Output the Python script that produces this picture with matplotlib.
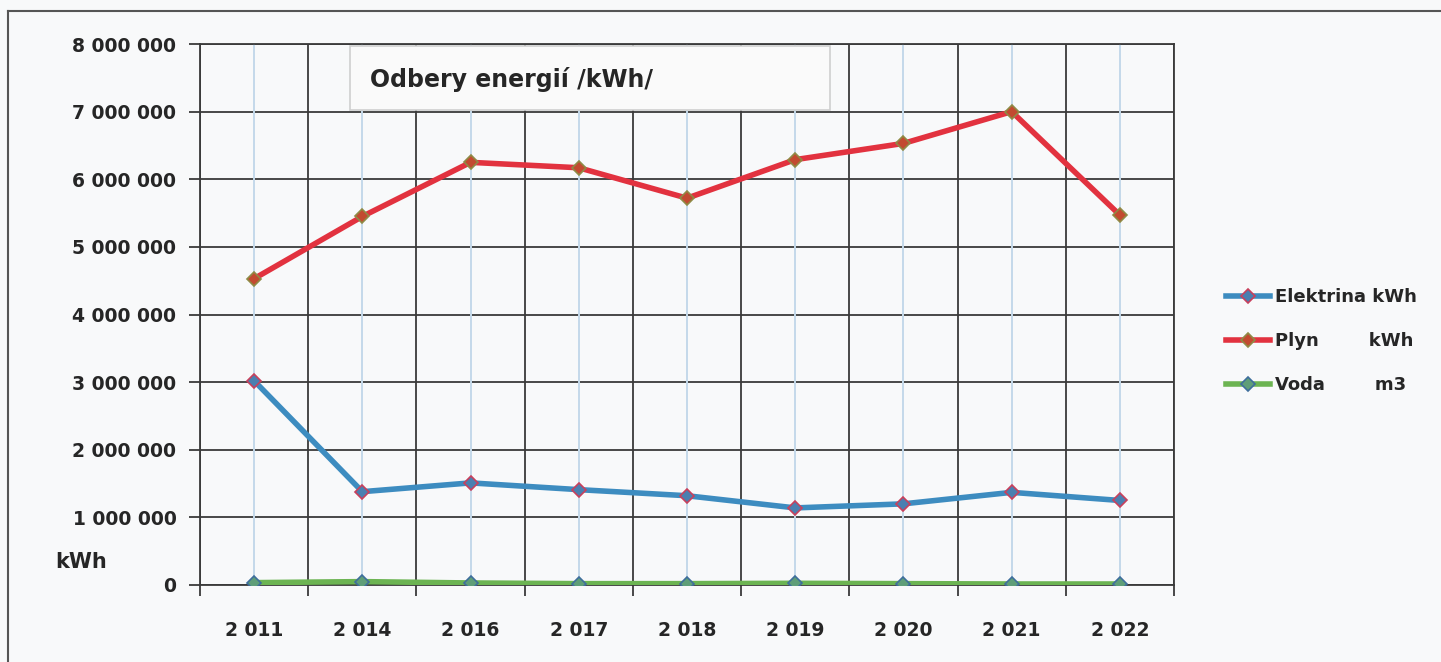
import matplotlib.pyplot as plt
from matplotlib.lines import Line2D
from matplotlib.patches import Rectangle
from matplotlib.ticker import FuncFormatter, MultipleLocator

years = ["2 011", "2 014", "2 016", "2 017", "2 018", "2 019", "2 020", "2 021", "2 022"]
elektrina = [3020000, 1380000, 1510000, 1410000, 1320000, 1140000, 1200000, 1370000, 1250000]
plyn = [4530000, 5450000, 6250000, 6170000, 5720000, 6290000, 6530000, 7000000, 5470000]
voda = [35000, 50000, 30000, 20000, 20000, 25000, 20000, 15000, 15000]

plt.rcParams['font.family'] = ['DejaVu Sans']
plt.rcParams['font.weight'] = 'bold'

bg = "#f8f9fa"
fig = plt.figure(figsize=(14.41, 6.62), dpi=100, facecolor=bg)
ax = fig.add_axes([200 / 1441, 1 - 585 / 662, 974 / 1441, 541 / 662])
ax.set_facecolor(bg)

x = list(range(len(years)))

# light blue lines at category centres, dark ones between categories
for xi in x:
    ax.axvline(xi, color="#c4d9ea", lw=1.4, zorder=1)
for xi in range(len(years) + 1):
    ax.axvline(xi - 0.5, color="#3a3a3a", lw=1.3, zorder=1)
ax.yaxis.grid(True, color="#3a3a3a", lw=1.3, zorder=1)
ax.set_axisbelow(True)

ax.plot(x, elektrina, color="#3d8cc0", lw=4, zorder=3,
        marker="D", ms=7, mfc="#4a7fb0", mec="#c8405c", mew=1.2, label="Elektrina kWh")
ax.plot(x, plyn, color="#e2323f", lw=4, zorder=3,
        marker="D", ms=7, mfc="#c24a30", mec="#8f8a45", mew=1.2, label="Plyn        kWh")
ax.plot(x, voda, color="#6cb452", lw=4, zorder=3,
        marker="D", ms=7, mfc="#5f9e78", mec="#3e6e9c", mew=1.2, label="Voda        m3")

ax.set_xlim(-0.5, len(years) - 0.5)
ax.set_ylim(0, 8000000)
ax.yaxis.set_major_locator(MultipleLocator(1000000))
ax.yaxis.set_major_formatter(FuncFormatter(lambda v, p: f"{int(v):,}".replace(",", " ")))
ax.set_xticks(x)
ax.set_xticklabels(years)
ax.set_xticks([xi - 0.5 for xi in range(len(years) + 1)], minor=True)
ax.tick_params(axis="x", which="major", length=0, pad=26, labelsize=13.5, labelcolor="#262626")
ax.tick_params(axis="x", which="minor", length=8, width=1.3, color="#3a3a3a", direction="out")
ax.tick_params(axis="y", length=8, width=1.3, color="#3a3a3a", pad=9, labelsize=13.5, labelcolor="#262626")
for s in ax.spines.values():
    s.set_color("#3a3a3a")
    s.set_linewidth(1.3)

fig.text(55 / 1441, 1 - 562 / 662, "kWh", fontsize=15, fontweight="bold", color="#262626", va="center")

# title box
fig.add_artist(Rectangle((350 / 1441, 1 - 110 / 662), 480 / 1441, 64 / 662,
                         transform=fig.transFigure, facecolor="#fafafa", edgecolor="#cfcfcf",
                         lw=1.2, zorder=5))
fig.text(370 / 1441, 1 - 80 / 662, "Odbery energií /kWh/", fontsize=17, fontweight="bold",
         color="#262626", va="center", zorder=6)

leg = fig.legend(loc="center left", bbox_to_anchor=(1210 / 1441, 1 - 341 / 662), frameon=False,
                 fontsize=13, handlelength=2.4, handletextpad=0.3, labelspacing=1.45,
                 labelcolor="#262626")
for t in leg.get_texts():
    t.set_fontweight("bold")

# scanned page frame
fig.add_artist(Line2D([8 / 1441, 1], [1 - 11 / 662, 1 - 11 / 662], transform=fig.transFigure,
                      color="#555555", lw=1.5))
fig.add_artist(Line2D([8 / 1441, 8 / 1441], [0, 1 - 11 / 662], transform=fig.transFigure,
                      color="#555555", lw=1.5))

fig.savefig("out.png", dpi=100, facecolor=bg)
